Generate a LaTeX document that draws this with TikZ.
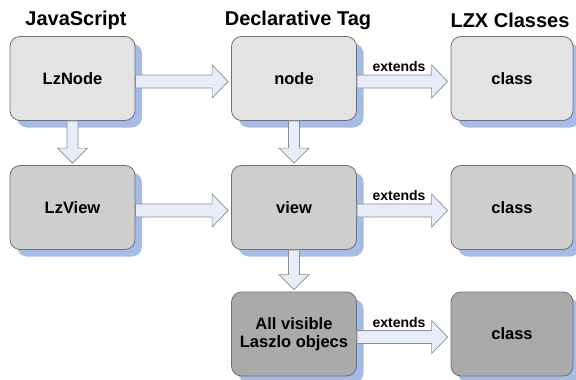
\documentclass[tikz,border=0pt]{standalone}
\usepackage{fontspec}
\setmainfont{Liberation Sans}
\usetikzlibrary{calc,shadows}

\definecolor{rowone}{HTML}{E3E3E3}
\definecolor{rowtwo}{HTML}{CECECE}
\definecolor{rowthree}{HTML}{AAAAAA}
\definecolor{boxline}{HTML}{707070}
\definecolor{shadowblue}{HTML}{A5BDE6}
\definecolor{arrowfill}{HTML}{E6EDF8}
\definecolor{arrowline}{HTML}{8C8C8C}

\tikzset{
  box/.style={draw=boxline, line width=0.8pt, rounded corners=10pt,
    minimum width=125pt, minimum height=84pt, inner sep=0pt, align=center,
    font=\fontsize{16.5}{18}\selectfont\bfseries,
    drop shadow={shadow xshift=7pt, shadow yshift=-7pt, fill=shadowblue, opacity=1}},
  classbox/.style={box, minimum width=122pt},
  header/.style={font=\fontsize{20}{22}\selectfont\bfseries, inner sep=0pt},
  lbl/.style={font=\fontsize{14}{16}\selectfont\bfseries, inner sep=0pt},
  blockarrow/.style={draw=arrowline, fill=arrowfill, line width=0.7pt, line join=miter},
}

% wide horizontal block arrow from the east side of #1 to the west side of #2
\newcommand\harrow[2]{%
  \draw[blockarrow] let \p1=(#1.east), \p2=(#2.west) in
    (\x1,\y1+3.5pt) -- (\x2-19pt,\y1+3.5pt) -- (\x2-19pt,\y1+13.5pt)
    -- (\x2-3pt,\y1-3pt) -- (\x2-19pt,\y1-19.5pt) -- (\x2-19pt,\y1-9.5pt)
    -- (\x1,\y1-9.5pt) -- cycle;}
% wide vertical block arrow from the south side of #1 to the north side of #2
\newcommand\varrow[2]{%
  \draw[blockarrow] let \p1=(#1.south), \p2=(#2.north) in
    (\x1-5.5pt,\y1) -- (\x1-5.5pt,\y2+17pt) -- (\x1-15pt,\y2+17pt)
    -- (\x1,\y2+2pt) -- (\x1+15pt,\y2+17pt) -- (\x1+5.5pt,\y2+17pt)
    -- (\x1+5.5pt,\y1) -- cycle;}

\begin{document}
\begin{tikzpicture}[x=1pt,y=-1pt]
  \useasboundingbox (0,0) rectangle (576,380);

  % column headers
  \node[header] (hjs)  at (76,20)  {JavaScript};
  \node[header] (hdecl) at (298,20) {Declarative Tag};
  \node[header] (hlzx) at (510,20) {LZX Classes};

  % boxes
  \node[box, fill=rowone] (lznode) at (72.5,78.5) {LzNode};
  \node[box, fill=rowone] (node)   at (294,78.5)  {node};
  \node[classbox, fill=rowone] (class1) at (512,78.5) {class};

  \node[box, fill=rowtwo] (lzview) at (72.5,207.5) {LzView};
  \node[box, fill=rowtwo] (view)   at (294,207.5)  {view};
  \node[classbox, fill=rowtwo] (class2) at (512,207.5) {class};

  \node[box, fill=rowthree] (visible) at (294,334) {All visible\\Laszlo objecs};
  \node[classbox, fill=rowthree] (class3) at (512,334) {class};

  % connectors
  \harrow{lznode}{node}
  \harrow{node}{class1}
  \harrow{lzview}{view}
  \harrow{view}{class2}
  \harrow{visible}{class3}
  \varrow{lznode}{lzview}
  \varrow{node}{view}
  \varrow{view}{visible}

  % connector labels
  \node[lbl] (ext1) at ($(node.east)!0.45!(class1.west)+(0,-12)$) {extends};
  \node[lbl] (ext2) at ($(view.east)!0.45!(class2.west)+(0,-12)$) {extends};
  \node[lbl] (ext3) at ($(visible.east)!0.45!(class3.west)+(0,-12)$) {extends};
\end{tikzpicture}
\end{document}
